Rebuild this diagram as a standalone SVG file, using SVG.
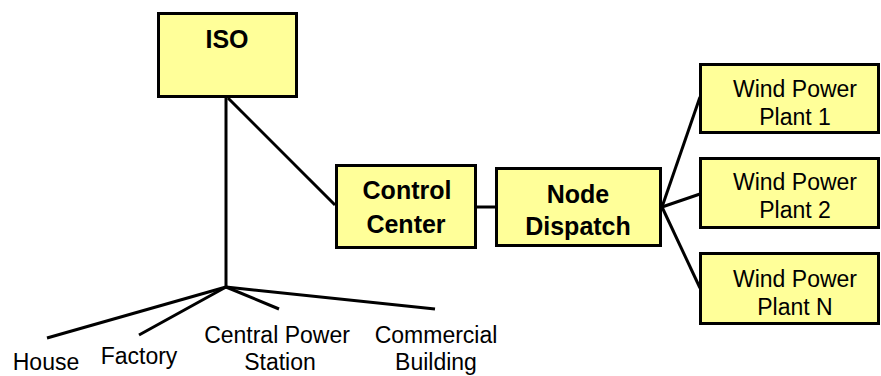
<svg xmlns="http://www.w3.org/2000/svg" width="881" height="376" viewBox="0 0 881 376">
<style>
.box{fill:#FFFF99;stroke:#000;stroke-width:3}
.lbl{font-family:"Liberation Sans",Arial,sans-serif;font-size:23px;fill:#000;text-anchor:middle}
.b{font-weight:bold;font-size:25px}
.ln{stroke:#000;stroke-width:3;fill:none}
</style>
<rect width="881" height="376" fill="#fff"/>
<g id="connectors">
<line class="ln" x1="226" y1="98" x2="226" y2="287"/>
<line class="ln" x1="228" y1="98" x2="335" y2="205"/>
<line class="ln" x1="477" y1="207" x2="495" y2="207"/>
<line class="ln" x1="662" y1="207" x2="700" y2="97"/>
<line class="ln" x1="662" y1="207" x2="700" y2="194"/>
<line class="ln" x1="662" y1="207" x2="700" y2="288"/>
<line class="ln" x1="226" y1="287" x2="47" y2="338"/>
<line class="ln" x1="226" y1="287" x2="139" y2="335"/>
<line class="ln" x1="226" y1="287" x2="279" y2="309"/>
<line class="ln" x1="226" y1="287" x2="435" y2="309"/>
</g>
<g id="iso">
<rect class="box" x="158.5" y="13.5" width="138" height="83"/>
<text class="lbl b" x="227" y="48">ISO</text>
</g>
<g id="control-center">
<rect class="box" x="336.5" y="165.5" width="139" height="82"/>
<text class="lbl b" x="407" y="199">Control</text>
<text class="lbl b" x="406" y="233">Center</text>
</g>
<g id="node-dispatch">
<rect class="box" x="496.5" y="168.5" width="164" height="77"/>
<text class="lbl b" x="578" y="203">Node</text>
<text class="lbl b" x="578" y="235">Dispatch</text>
</g>
<g id="wind-1">
<rect class="box" x="700.5" y="64.5" width="178" height="68"/>
<text class="lbl" x="795" y="97">Wind Power</text>
<text class="lbl" x="795" y="125">Plant 1</text>
</g>
<g id="wind-2">
<rect class="box" x="700.5" y="158.5" width="178" height="69"/>
<text class="lbl" x="795" y="190">Wind Power</text>
<text class="lbl" x="795" y="218">Plant 2</text>
</g>
<g id="wind-n">
<rect class="box" x="700.5" y="253.5" width="178" height="70"/>
<text class="lbl" x="795" y="287">Wind Power</text>
<text class="lbl" x="795" y="315">Plant N</text>
</g>
<g id="house">
<text class="lbl" x="46" y="370">House</text>
</g>
<g id="factory">
<text class="lbl" x="139" y="364">Factory</text>
</g>
<g id="central-power-station">
<text class="lbl" x="277" y="343">Central Power</text>
<text class="lbl" x="280" y="370">Station</text>
</g>
<g id="commercial-building">
<text class="lbl" x="436" y="343">Commercial</text>
<text class="lbl" x="436" y="370">Building</text>
</g>
</svg>
